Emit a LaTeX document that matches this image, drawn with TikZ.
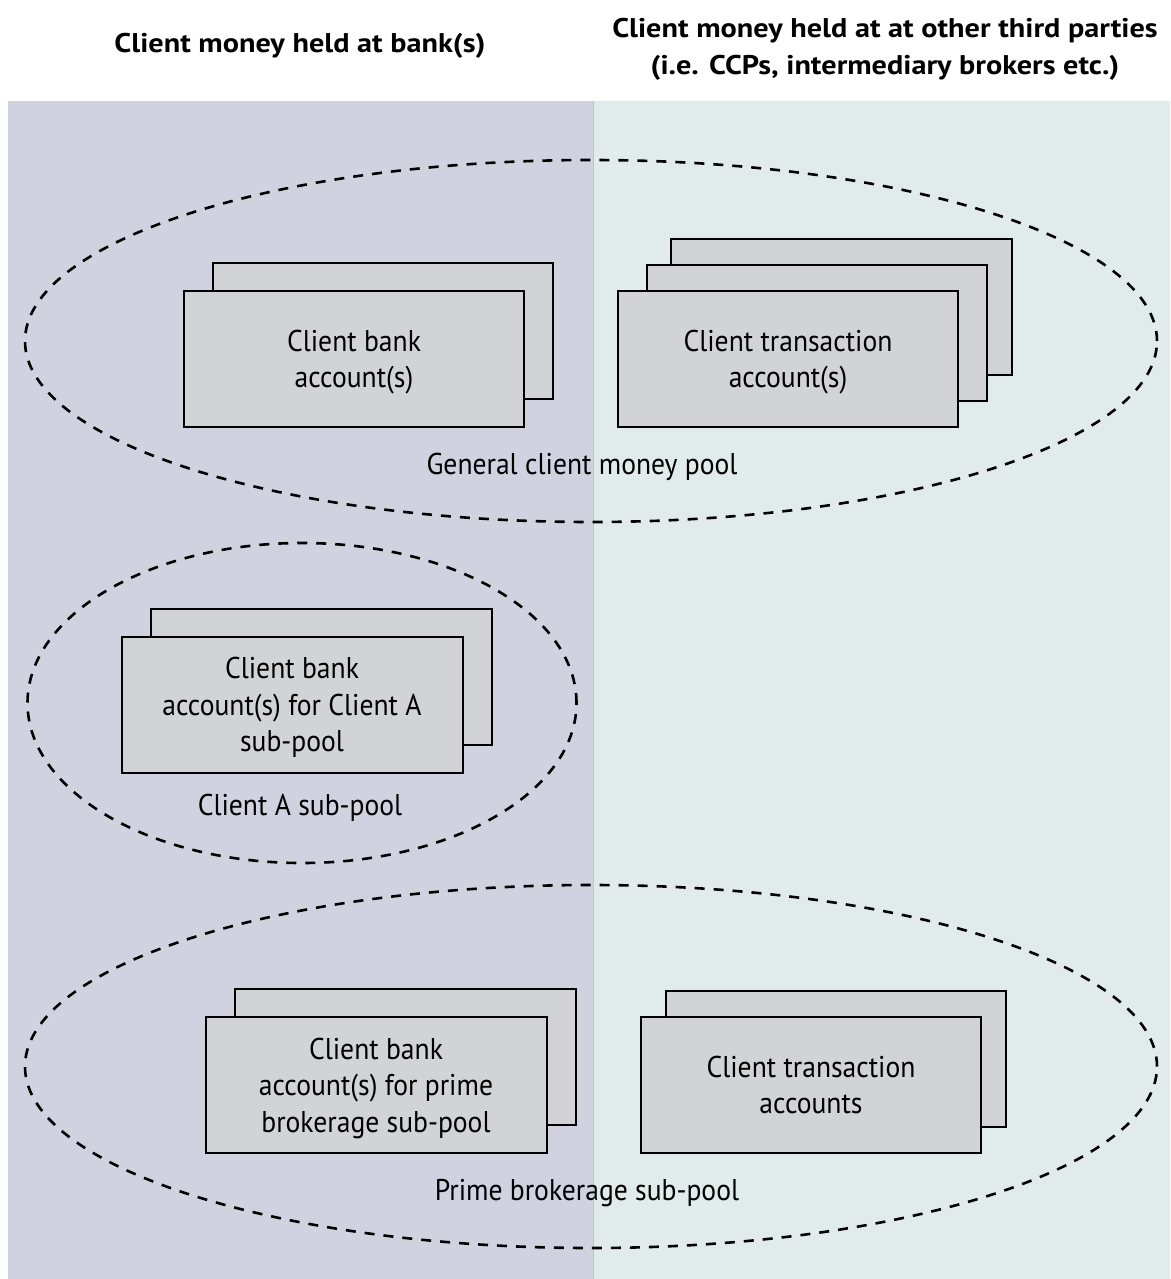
\documentclass[tikz,border=0pt]{standalone}
\usepackage{fontspec}
\setmainfont{PT Sans}
\newfontfamily\bodyfont[FakeStretch=0.92]{PT Sans}
\newfontfamily\headfont[FakeStretch=1.12]{PT Sans}
\usetikzlibrary{shapes.geometric}
\definecolor{leftbg}{HTML}{D0D2E0}
\definecolor{rightbg}{HTML}{E2EBEB}
\definecolor{boxfill}{HTML}{D2D3D6}
\definecolor{divline}{HTML}{BCC4D4}
\tikzset{
  acct/.style={draw=black, line width=2pt, fill=boxfill, rectangle, inner sep=0pt,
    align=center, text depth=0pt, font=\bodyfont\fontsize{30}{36.5}\selectfont},
  pool/.style={draw=black, line width=2.6pt, dash pattern=on 10pt off 9pt, ellipse, inner sep=0pt},
  poollabel/.style={font=\bodyfont\fontsize{30}{36}\selectfont, inner sep=0pt},
  heading/.style={font=\headfont\bfseries\fontsize{27}{37}\selectfont, align=center, inner sep=0pt},
}
\begin{document}
\begin{tikzpicture}[x=1pt,y=-1pt]
\useasboundingbox (0,0) rectangle (1170,1279);
% panels
\fill[leftbg] (8,101) rectangle (593,1279);
\fill[rightbg] (593,101) rectangle (1170,1279);
\draw[divline, line width=0.8pt] (593,101) -- (593,1279);
% headings
\node[heading] (hleft) at (300,46) {Client money held at bank(s)};
\node[heading] (hright) at (885,49) {Client money held at at other third parties\\(i.e. CCPs, intermediary brokers etc.)};
% general pool
\node[pool, minimum width=1132pt, minimum height=362pt] (gpool) at (591,341) {};
\node[acct, minimum width=340pt, minimum height=136pt] (cba1back) at (383,331) {};
\node[acct, minimum width=340pt, minimum height=136pt] (cba1) at (354,359) {Client bank\\account(s)};
\node[acct, minimum width=341pt, minimum height=136pt] (cta3) at (841.5,307) {};
\node[acct, minimum width=340pt, minimum height=136pt] (cta2) at (817,333) {};
\node[acct, minimum width=340pt, minimum height=136pt] (cta1) at (788,359) {Client transaction\\account(s)};
\node[poollabel] (gpl) at (582,467) {General client money pool};
% client A sub-pool
\node[pool, minimum width=549pt, minimum height=320pt] (apool) at (302,703) {};
\node[acct, minimum width=341pt, minimum height=136pt] (cbaAback) at (321,677) {};
\node[acct, minimum width=341pt, minimum height=136pt] (cbaA) at (292,704.5) {Client bank\\account(s) for Client A\\sub-pool};
\node[poollabel] (apl) at (300,808) {Client A sub-pool};
% prime brokerage sub-pool
\node[pool, minimum width=1132pt, minimum height=363pt] (ppool) at (591,1066.5) {};
\node[acct, minimum width=341pt, minimum height=136pt] (cbaPback) at (405,1057) {};
\node[acct, minimum width=341pt, minimum height=136pt] (cbaP) at (376,1085) {Client bank\\account(s) for prime\\brokerage sub-pool};
\node[acct, minimum width=340pt, minimum height=136pt] (ctaPback) at (836,1059) {};
\node[acct, minimum width=340pt, minimum height=136pt] (ctaP) at (811,1085) {Client transaction\\accounts};
\node[poollabel] (ppl) at (587,1193) {Prime brokerage sub-pool};
\end{tikzpicture}
\end{document}
